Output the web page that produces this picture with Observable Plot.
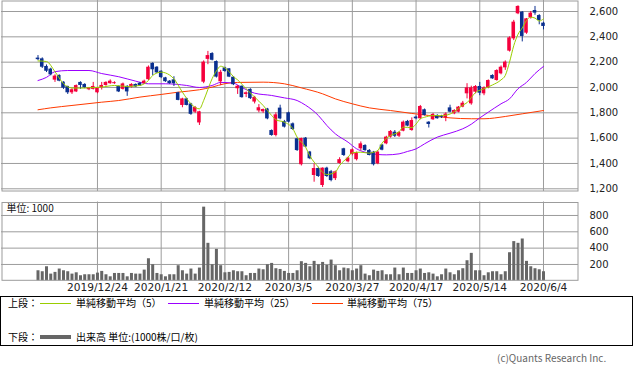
<!DOCTYPE html>
<html><head><meta charset="utf-8">
<script src="https://cdn.jsdelivr.net/npm/d3@7"></script>
<script src="https://cdn.jsdelivr.net/npm/@observablehq/plot@0.6"></script>
<style>
body{margin:0;background:#fff;}
#wrap{position:relative;width:633px;height:373px;overflow:hidden;font-family:"Noto Sans CJK JP","Noto Sans",sans-serif;color:#000;}
.abs{position:absolute;}
.t{position:absolute;font-size:10px;line-height:12px;white-space:nowrap;}
</style></head><body>
<div id="wrap">
  <div id="top" class="abs" style="left:0;top:0"></div>
  <div id="bot" class="abs" style="left:0;top:191px"></div>
  <div class="abs" style="left:0;top:296px;width:633px;height:50px;box-sizing:border-box;border:1px solid #000;"></div>
  <div class="t" style="left:8px;top:297px">上段：</div>
  <div class="abs" id="lg5" style="left:40px;top:303px;width:31px;height:1px;"></div>
  <div class="t" style="left:76px;top:297px">単純移動平均（5）</div>
  <div class="abs" id="lg25" style="left:168px;top:303px;width:31px;height:1px;"></div>
  <div class="t" style="left:204px;top:297px">単純移動平均（25）</div>
  <div class="abs" id="lg75" style="left:312px;top:303px;width:31px;height:1px;"></div>
  <div class="t" style="left:347px;top:297px">単純移動平均（75）</div>
  <div class="t" style="left:8px;top:331px">下段：</div>
  <div class="abs" id="lgv" style="left:40px;top:335px;width:31px;height:4px;"></div>
  <div class="t" style="left:76px;top:331px">出来高 単位:(1000株/口/枚)</div>
  <div class="t" style="left:497px;top:352px;color:#666;">(c)Quants Research Inc.</div>
</div>
<script>
// ---- data (trading-day index 0 = 2019/12/4 ... 119 = 2020/6/4) ----
const tickIdx = [14, 29, 44, 59, 74, 89, 104, 119];
const tickLabels = ["2019/12/24", "2020/1/21", "2020/2/12", "2020/3/5", "2020/3/27", "2020/4/17", "2020/5/14", "2020/6/4"];
const priceTicks = [1200, 1400, 1600, 1800, 2000, 2200, 2400, 2600];
const volTicks = [200, 400, 600, 800];

const open = [2232,2226,2166,2145,2058,2095,2042,2008,1958,1965,
  2040,2024,1982,1985,1958,1998,2016,2030,2030,2008,
  1985,2008,2003,2024,2034,2030,2062,2190,2160,2128,
  2076,2050,2060,1958,1858,1910,1870,1805,1720,2042,
  2222,2268,2205,2045,2155,2147,2081,1990,2010,1945,
  1985,1885,1815,1808,1830,1660,1621,1837,1731,1800,
  1713,1595,1390,1600,1490,1305,1360,1226,1363,1335,
  1280,1400,1516,1413,1471,1430,1516,1542,1503,1489,
  1397,1545,1555,1608,1647,1615,1655,1732,1660,1766,
  1753,1824,1726,1745,1779,1770,1760,1839,1792,1805,
  1845,1950,1871,1963,2008,1950,1997,2095,2055,2108,
  2155,2287,2384,2582,2595,2429,2550,2608,2568,2508];
const high = [2252,2234,2178,2152,2100,2100,2045,2010,1990,2020,
  2045,2030,2000,2040,2000,2040,2045,2060,2045,2012,
  2035,2015,2030,2028,2040,2058,2170,2195,2165,2132,
  2080,2055,2085,1962,1915,1915,1875,1850,1812,2210,
  2285,2275,2210,2135,2160,2150,2085,2015,2012,1965,
  1990,1930,1865,1830,1835,1665,1800,1860,1740,1805,
  1720,1600,1600,1605,1495,1397,1370,1365,1370,1345,
  1340,1445,1520,1450,1515,1490,1570,1548,1510,1495,
  1500,1550,1615,1660,1660,1650,1735,1740,1760,1775,
  1858,1830,1730,1795,1785,1780,1800,1860,1825,1850,
  1890,2030,2010,2015,2040,2005,2060,2100,2140,2170,
  2210,2400,2530,2645,2600,2545,2600,2640,2575,2515];
const low = [2212,2150,2118,2092,2040,2045,1985,1945,1945,1960,
  1985,1990,1975,1980,1950,1980,2010,2025,2025,1960,
  1980,1930,1995,2000,2008,2025,2055,2095,2110,2070,
  2040,2025,2008,1895,1840,1855,1780,1795,1700,2030,
  2180,2210,2075,2015,2120,2078,2015,1945,1915,1920,
  1905,1870,1800,1795,1745,1615,1610,1745,1680,1720,
  1660,1495,1380,1525,1430,1252,1290,1210,1290,1255,
  1265,1395,1455,1405,1460,1420,1500,1495,1460,1380,
  1390,1500,1548,1600,1605,1605,1650,1690,1655,1745,
  1745,1775,1680,1740,1750,1755,1730,1800,1785,1800,
  1840,1910,1860,1950,1935,1935,1990,2065,2050,2100,
  2135,2280,2370,2575,2360,2420,2540,2570,2495,2455];
const close = [2220,2160,2128,2100,2090,2050,1995,1958,1982,2015,
  2016,1998,1997,2008,1995,2016,2040,2050,2038,1965,
  2028,1965,2024,2004,2012,2050,2160,2140,2115,2078,
  2046,2030,2030,1898,1910,1858,1788,1842,1808,2200,
  2252,2215,2082,2120,2126,2082,2022,2010,1920,1958,
  1912,1922,1840,1826,1752,1621,1784,1752,1687,1726,
  1668,1502,1597,1530,1437,1360,1297,1363,1297,1265,
  1334,1430,1463,1442,1508,1481,1555,1502,1463,1390,
  1489,1505,1608,1653,1615,1645,1726,1695,1739,1753,
  1850,1779,1708,1787,1753,1762,1790,1805,1818,1845,
  1876,1997,1997,2008,1955,1997,2055,2068,2134,2160,
  2200,2392,2516,2640,2403,2542,2587,2587,2529,2482];
const volume = [123,111,172,82,103,144,123,111,82,98,
  62,74,74,74,94,115,74,49,90,90,
  90,49,90,82,82,131,270,197,90,74,
  49,74,74,185,123,82,144,82,156,902,
  459,197,385,185,98,103,123,111,111,62,
  90,90,144,135,197,213,148,139,115,90,
  90,123,234,213,172,238,197,225,189,254,
  185,123,156,148,123,144,185,82,62,131,
  115,123,74,74,156,74,156,90,90,123,
  144,90,98,82,49,74,144,98,74,123,
  148,246,336,123,123,62,98,111,111,74,
  111,344,480,459,512,238,172,148,135,111];

// moving averages (day index, value)
const ma5Day = [0,2,4,6,8,10,12,15,18,21,24,26,27,29,30,32,34,36,38,39,40,41,42,43,44,45,46,47,49,51,53,55,56,58,60,61,63,64,66,67,68,70,71,73,74,76,78,79,80,81,83,85,86,88,89,90,91,93,95,97,98,99,100,101,103,105,107,109,110,111,112,113,114,115,116,117,118,119];
const ma5Val = [2210,2205,2125,2030,1996,1995,1998,2003,2016,2008,2016,2055,2095,2121,2115,2068,1963,1871,1831,1897,1985,2070,2130,2168,2155,2125,2086,2060,1990,1924,1858,1779,1745,1726,1674,1608,1529,1460,1371,1330,1313,1332,1384,1450,1485,1489,1481,1489,1503,1560,1621,1650,1687,1683,1711,1753,1765,1778,1778,1790,1810,1835,1860,1880,1960,1990,2020,2060,2095,2200,2330,2420,2470,2529,2555,2548,2525,2542];
const ma25Day = [0,2,4,7,12,15,19,23,26,30,35,38,41,43,46,48,51,55,58,61,63,66,68,70,73,75,77,80,82,85,87,89,91,94,97,100,102,104,106,109,111,113,115,117,119];
const ma25Val = [2055,2080,2125,2134,2134,2110,2085,2050,2029,2029,2016,2000,2016,2040,2034,2000,1955,1937,1918,1897,1860,1779,1700,1634,1568,1516,1489,1471,1468,1476,1495,1515,1555,1608,1639,1674,1710,1760,1805,1871,1910,1990,2040,2110,2166];
const ma75Day = [0,3,8,15,19,24,29,33,38,41,44,47,53,58,62,67,70,74,78,83,88,92,97,102,105,110,114,119];
const ma75Val = [1824,1839,1858,1884,1897,1924,1945,1963,1982,2003,2030,2040,2042,2029,1997,1950,1910,1871,1839,1818,1795,1779,1760,1753,1753,1771,1792,1818];

// ---- styling ----
const GRID = "#9c9c9c", UP = "#f5003c", DOWN = "#0a2f8f";
const C5 = "#9acd00", C25 = "#9b00ff", C75 = "#ff3a00", VOL = "#666666";
document.getElementById("lg5").style.background = C5;
document.getElementById("lg25").style.background = C25;
document.getElementById("lg75").style.background = C75;
document.getElementById("lgv").style.background = VOL;

const days = d3.range(open.length);
const isUp = i => close[i] >= open[i];
const xDomain = [-8.592, 127.24];
const numFont = "DejaVu Sans, sans-serif";

const topChart = Plot.plot({
  width: 633, height: 191,
  marginLeft: 1, marginRight: 55, marginTop: 0, marginBottom: 0,
  style: {background: "transparent", overflow: "visible", fontFamily: numFont, fontSize: "10px", color: "#222"},
  x: {domain: xDomain, axis: null},
  y: {domain: [1178.6, 2686.9], axis: "right", ticks: priceTicks, tickFormat: d3.format(","), tickSize: 0, tickPadding: 11, label: null},
  marks: [
    Plot.ruleY(priceTicks, {stroke: GRID, strokeWidth: 1}),
    Plot.ruleX(tickIdx, {stroke: GRID, strokeWidth: 1}),
    Plot.frame({stroke: GRID, inset: 0.5}),
    Plot.line(ma75Day, {x: d => d, y: (d, i) => ma75Val[i], stroke: C75, strokeWidth: 1, curve: "monotone-x"}),
    Plot.line(ma25Day, {x: d => d, y: (d, i) => ma25Val[i], stroke: C25, strokeWidth: 1, curve: "monotone-x"}),
    Plot.ruleX(days, {filter: isUp, x: d => d, y1: i => low[i], y2: i => high[i], stroke: UP, strokeWidth: 1}),
    Plot.ruleX(days, {filter: i => !isUp(i), x: d => d, y1: i => low[i], y2: i => high[i], stroke: DOWN, strokeWidth: 1}),
    Plot.rect(days, {filter: isUp, x1: i => i - 0.42, x2: i => i + 0.42, y1: i => open[i], y2: i => close[i], fill: UP}),
    Plot.rect(days, {filter: i => !isUp(i), x1: i => i - 0.42, x2: i => i + 0.42, y1: i => open[i], y2: i => close[i], fill: DOWN}),
    Plot.line(ma5Day, {x: d => d, y: (d, i) => ma5Val[i], stroke: C5, strokeWidth: 1, curve: "monotone-x"})
  ]
});
document.getElementById("top").append(topChart);

const botChart = Plot.plot({
  width: 633, height: 105,
  marginLeft: 1, marginRight: 55, marginTop: 10.5, marginBottom: 15.7,
  style: {background: "transparent", overflow: "visible", fontFamily: numFont, fontSize: "10px", color: "#222"},
  x: {domain: xDomain, axis: null},
  y: {domain: [0, 965], axis: "right", ticks: volTicks, tickSize: 0, tickPadding: 11, label: null},
  marks: [
    Plot.ruleY(volTicks, {stroke: GRID, strokeWidth: 1}),
    Plot.ruleX(tickIdx, {stroke: GRID, strokeWidth: 1}),
    Plot.ruleX(days, {x: d => d, y1: 0, y2: i => volume[i], stroke: VOL, strokeWidth: 3}),
    Plot.frame({stroke: GRID, inset: 0.5}),
    Plot.text(tickIdx, {x: d => d, text: (d, i) => tickLabels[i], frameAnchor: "bottom", lineAnchor: "top", dy: 3, fontSize: 10.6, fill: "#222"}),
    Plot.text(["単位: 1000"], {frameAnchor: "top-left", dx: 5, dy: 2.5, fontFamily: "Noto Sans CJK JP, sans-serif", fontSize: 10, fill: "#111"})
  ]
});
document.getElementById("bot").append(botChart);
</script>
</body></html>
